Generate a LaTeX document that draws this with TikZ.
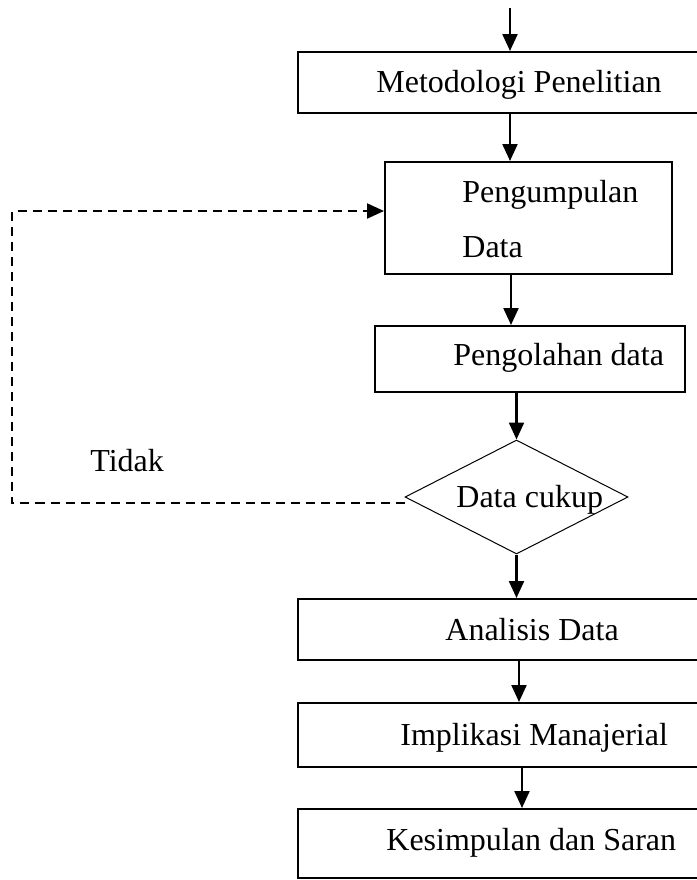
\documentclass[tikz,border=0pt]{standalone}
\usepackage{fontspec}
\setmainfont{Liberation Serif}
\usetikzlibrary{arrows.meta,shapes.geometric}

\begin{document}
\begin{tikzpicture}[x=0.5pt,y=-0.5pt,
	box/.style={draw, line width=1pt, inner sep=0, minimum width=203.5pt},
	txt/.style={font=\fontsize{16}{19}\selectfont, inner sep=0, anchor=base west},
	arr/.style={line width=1.1pt, -{Triangle[length=8.5pt,width=7.5pt]}},
	balikarr/.style={arr, dash pattern=on 4.5pt off 3pt}]
	\useasboundingbox (0,0) rectangle (697,880);
	% kotak-kotak
	\node[box, minimum height=30.5pt] (metode) at (501.5,82.5) {};
	\node[box, minimum width=143.5pt, minimum height=56pt] (kumpul) at (528.5,218) {};
	\node[box, minimum width=155pt, minimum height=33pt] (olah) at (530,359) {};
	\node[draw, diamond, line width=0.5pt, inner sep=0, minimum width=111.5pt, minimum height=57pt] (cek) at (516.5,497) {};
	\node[box, minimum height=30.5pt] (anal) at (501.5,629.5) {};
	\node[box, minimum height=32pt] (impl) at (501.5,735) {};
	\node[box, minimum height=34.5pt] (simpul) at (501.5,843.5) {};
	% teks
	\node[txt] (tmetode) at (376,92) {Metodologi Penelitian};
	\node[txt] (tkumpul) at (462,202) {Pengumpulan};
	\node[txt] (tdata) at (462,257) {Data};
	\node[txt] (tolah) at (453,365) {Pengolahan data};
	\node[txt] (tcek) at (456,507) {Data cukup};
	\node[txt] (ttidak) at (90,471) {Tidak};
	\node[txt] (tanal) at (445,640) {Analisis Data};
	\node[txt] (timpl) at (400,745) {Implikasi Manajerial};
	\node[txt] (tsimpul) at (386,850) {Kesimpulan dan Saran};
	% panah
	\coordinate (awal) at (510,8);
	\draw[arr] (awal) -- ([xshift=4.25pt]metode.north);
	\draw[arr] ([xshift=4.25pt]metode.south) -- ([xshift=-9.25pt]kumpul.north);
	\draw[arr] ([xshift=-8.75pt]kumpul.south) -- ([xshift=-9.5pt]olah.north);
	\draw[arr] (cek.north |- olah.south) -- (cek.north);
	\draw[arr] (cek.south) -- (cek.south |- anal.north);
	\draw[arr] ([xshift=8.75pt]anal.south) -- ([xshift=8.75pt]impl.north);
	\draw[arr] ([xshift=10.25pt]impl.south) -- ([xshift=10.25pt]simpul.north);
	% kembali jika tidak
	\coordinate (balik) at (12,211);
	\draw[balikarr] ([yshift=-3pt]cek.west) -| (balik) -- (kumpul.west |- balik);
\end{tikzpicture}
\end{document}
